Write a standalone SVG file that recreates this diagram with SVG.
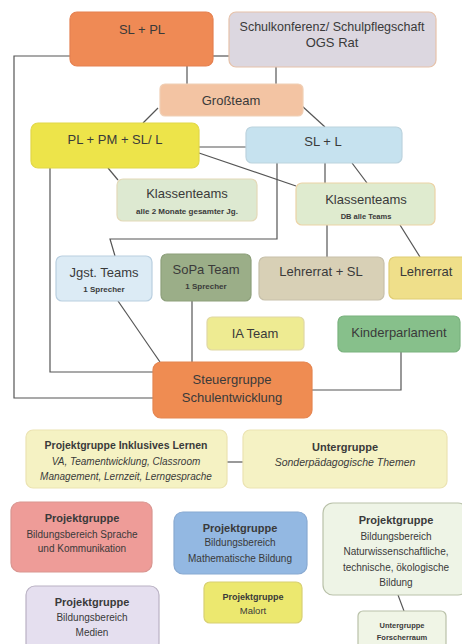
<svg xmlns="http://www.w3.org/2000/svg" width="462" height="644" viewBox="0 0 462 644">
<style>
text{font-family:"Liberation Sans",Arial,sans-serif;fill:#3a3a3a;text-anchor:middle}
.m{font-size:13px}
.s{font-size:8px;font-weight:bold}
.b{font-size:11px;font-weight:bold}
.r{font-size:10px}
.i{font-size:10px;font-style:italic}
rect{stroke-width:1.2}
#connectors path{fill:none;stroke:#555;stroke-width:1.2}
</style>
<rect width="462" height="644" fill="#ffffff"/>
<g id="connectors">
<path d="M213,56 H229"/>
<path d="M70,56 H14 V398 H153"/>
<path d="M187,66 V84"/>
<path d="M276,67 V84"/>
<path d="M158,108 L143,123"/>
<path d="M302,106 L325,127"/>
<path d="M199,147 H246"/>
<path d="M199,153 L296,186"/>
<path d="M108,168 L118,180"/>
<path d="M325,163 V183"/>
<path d="M352,163 L367,183"/>
<path d="M277,163 V239 H110 L115,256"/>
<path d="M327,225 V257"/>
<path d="M400,225 L420,257"/>
<path d="M50,168 V372 H153"/>
<path d="M118,301 L160,362"/>
<path d="M192,301 V362"/>
<path d="M401,352 V390 H312"/>
<path d="M227,462 H243"/>
<path d="M398,595 L404,611"/>
</g>
<g id="sl-pl"><rect x="70" y="12" width="143" height="54" rx="7" fill="#ef8a55" stroke="#e58050"/><text class="m" x="142" y="34">SL  +  PL</text></g>
<g id="schulkonferenz"><rect x="229" y="12" width="207" height="55" rx="7" fill="#dcd7e0" stroke="#e6c2aa"/><text x="332" y="31" style="font-size:12.5px">Schulkonferenz/  Schulpflegschaft</text><text class="m" x="332" y="47">OGS  Rat</text></g>
<g id="grossteam"><rect x="160" y="84" width="143" height="32" rx="5" fill="#f3c4a3" stroke="#f0cfb5"/><text class="m" x="231" y="105">Großteam</text></g>
<g id="pl-pm"><rect x="31" y="123" width="168" height="45" rx="7" fill="#ede44a" stroke="#e2d848"/><text class="m" x="115" y="144">PL  +  PM  +  SL/  L</text></g>
<g id="sl-l"><rect x="246" y="127" width="156" height="36" rx="6" fill="#c6e2ef" stroke="#bcd3de"/><text class="m" x="323" y="146">SL  +  L</text></g>
<g id="klassenteams1"><rect x="117" y="179" width="140" height="42" rx="6" fill="#dde9d1" stroke="#e3d9b8"/><text class="m" x="187" y="198">Klassenteams</text><text class="s" x="187" y="214">alle 2 Monate gesamter Jg.</text></g>
<g id="klassenteams2"><rect x="296" y="183" width="139" height="42" rx="6" fill="#dfebcf" stroke="#ecd3a6"/><text class="m" x="366" y="204">Klassenteams</text><text class="s" x="366" y="219" style="font-size:7.5px">DB alle Teams</text></g>
<g id="jgst"><rect x="56" y="256" width="96" height="45" rx="6" fill="#dcebf5" stroke="#b9cfe0"/><text class="m" x="104" y="277">Jgst.  Teams</text><text class="s" x="104" y="292">1 Sprecher</text></g>
<g id="sopa"><rect x="161" y="254" width="90" height="47" rx="6" fill="#9bae88" stroke="#8d9f7b"/><text class="m" x="206" y="274">SoPa  Team</text><text class="s" x="206" y="289">1 Sprecher</text></g>
<g id="lehrerrat-sl"><rect x="259" y="257" width="125" height="43" rx="6" fill="#d8d0b6" stroke="#c7c0aa"/><text class="m" x="321" y="276">Lehrerrat  +  SL</text></g>
<g id="lehrerrat"><rect x="389" y="257" width="80" height="42" rx="6" fill="#efdf8a" stroke="#e0cd74"/><text class="m" x="426" y="276">Lehrerrat</text></g>
<g id="ia-team"><rect x="207" y="317" width="97" height="33" rx="5" fill="#eeeb92" stroke="#e0d8a4"/><text class="m" x="255" y="338">IA  Team</text></g>
<g id="kinderparlament"><rect x="338" y="316" width="122" height="36" rx="6" fill="#87c08b" stroke="#7ab27e"/><text class="m" x="399" y="337">Kinderparlament</text></g>
<g id="steuergruppe"><rect x="153" y="362" width="159" height="56" rx="8" fill="#ef8c52" stroke="#e58550"/><text class="m" x="232" y="384">Steuergruppe</text><text class="m" x="232" y="402">Schulentwicklung</text></g>
<g id="inklusives"><rect x="26" y="430" width="201" height="58" rx="7" fill="#f5f2c3" stroke="#ebe3b2"/><text class="b" x="126" y="449" style="font-size:10.5px">Projektgruppe Inklusives Lernen</text><text class="i" x="126" y="465">VA, Teamentwicklung, Classroom</text><text class="i" x="126" y="480">Management, Lernzeit, Lerngesprache</text></g>
<g id="untergruppe-sopa"><rect x="243" y="430" width="204" height="58" rx="7" fill="#f5f2c4" stroke="#ebe3b2"/><text class="b" x="345" y="451">Untergruppe</text><text class="i" x="345" y="466" style="font-size:10.5px">Sonderpädagogische Themen</text></g>
<g id="sprache"><rect x="11" y="502" width="141" height="70" rx="9" fill="#ee9c98" stroke="#d99590"/><text class="b" x="82" y="522">Projektgruppe</text><text class="r" x="82" y="538">Bildungsbereich  Sprache</text><text class="r" x="82" y="552">und  Kommunikation</text></g>
<g id="mathematik"><rect x="174" y="512" width="133" height="62" rx="9" fill="#93b8e2" stroke="#88a9d1"/><text class="b" x="240" y="532">Projektgruppe</text><text class="r" x="240" y="546">Bildungsbereich</text><text class="r" x="240" y="562">Mathematische  Bildung</text></g>
<g id="naturwiss"><rect x="323" y="503" width="145" height="92" rx="10" fill="#eef4e6" stroke="#b9c1a9"/><text class="b" x="396" y="524">Projektgruppe</text><text class="r" x="396" y="540">Bildungsbereich</text><text class="r" x="396" y="555">Naturwissenschaftliche,</text><text class="r" x="396" y="571">technische,  ökologische</text><text class="r" x="396" y="586">Bildung</text></g>
<g id="medien"><rect x="26" y="586" width="133" height="66" rx="9" fill="#e5dfef" stroke="#b9b1c3"/><text class="b" x="92" y="606">Projektgruppe</text><text class="r" x="92" y="621">Bildungsbereich</text><text class="r" x="92" y="636">Medien</text></g>
<g id="malort"><rect x="204" y="582" width="98" height="41" rx="6" fill="#ece86f" stroke="#d8d073"/><text class="b" x="253" y="600" style="font-size:9px">Projektgruppe</text><text class="r" x="253" y="614" style="font-size:9.5px">Malort</text></g>
<g id="forscherraum"><rect x="358" y="611" width="88" height="40" rx="5" fill="#f0f5e6" stroke="#b9c1a9"/><text class="s" x="402" y="628" style="font-size:7.5px">Untergruppe</text><text class="s" x="402" y="640" style="font-size:7.5px">Forscherraum</text></g>
</svg>
